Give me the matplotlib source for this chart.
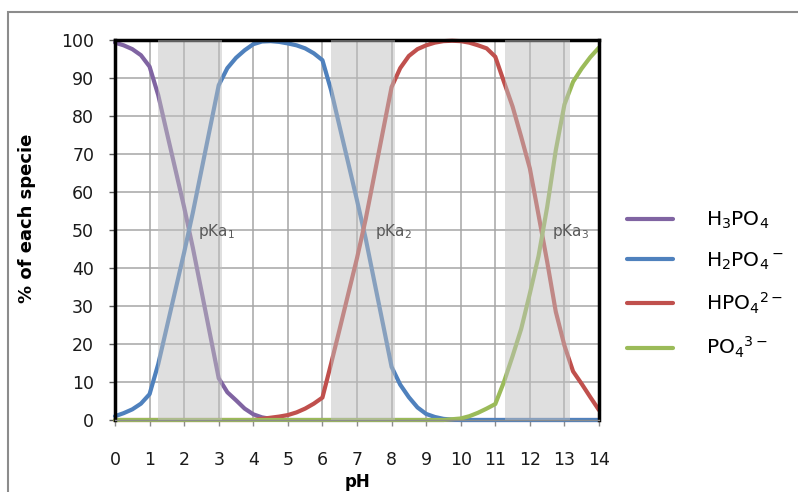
import numpy as np
import matplotlib.pyplot as plt
from matplotlib.patches import Rectangle

plt.rcParams['mathtext.default'] = 'regular'

# pH grid (0 .. 14, step 0.25) and % of each species
ph = np.arange(0, 14.01, 0.25)

h3po4 = [99.3, 98.6, 97.6, 96.0, 93.0, 85.5, 75.6, 65.8, 56.0, 45.4, 34.0, 22.5,
         11.0, 7.3, 5.2, 3.0, 1.5, 0.7, 0.3, 0.1] + [0.0] * 37

h2po4 = [1.0, 1.8, 2.8, 4.3, 6.8, 14.7, 24.5, 34.3, 44.1, 54.5, 65.7, 76.9,
         88.1, 92.6, 95.3, 97.3, 98.9, 99.6, 99.7, 99.5, 99.1, 98.6, 97.8, 96.5,
         94.7, 86.8, 77.1, 67.5, 57.8, 47.8, 36.5, 25.3, 14.0, 9.3, 6.0, 3.3,
         1.6, 0.8, 0.3, 0.1] + [0.0] * 17

hpo4 = [0.0] * 17 + [0.3, 0.6, 0.9, 1.3, 2.0, 3.0, 4.3, 5.9, 14.8, 24.0, 33.3,
                     42.6, 52.8, 64.4, 76.0, 87.6, 92.6, 95.8, 97.6, 98.6, 99.3,
                     99.7, 99.8, 99.7, 99.3, 98.6, 97.8, 95.6, 89.0, 82.5, 74.5,
                     66.2, 54.0, 41.7, 28.5, 19.6, 12.8, 9.5, 6.0, 2.6]

po4 = [0.0] * 39 + [0.2, 0.4, 1.0, 1.9, 3.0, 4.2, 10.0, 16.8, 24.0, 33.3, 43.1,
                    56.0, 71.0, 83.0, 89.0, 92.5, 95.5, 98.0]

labels = [r'H$_3$PO$_4$', r'H$_2$PO$_4$$^-$', r'HPO$_4$$^{2-}$', r'PO$_4$$^{3-}$']
colors = ['#8064A2', '#4F81BD', '#C0504D', '#9BBB59']

# shaded buffer zones around each pKa
bands = [(1.23, 3.09), (6.25, 8.1), (11.28, 13.16)]
pka_labels = [r'pKa$_1$', r'pKa$_2$', r'pKa$_3$']
pka_pos = [2.4, 7.52, 12.63]

W, H = 798, 492
fig = plt.figure(figsize=(W / 100, H / 100), dpi=100)
ax = fig.add_axes([115 / W, 1 - 420 / H, 484 / W, 380 / H])

for y, lab, c in zip([h3po4, h2po4, hpo4, po4], labels, colors):
    ax.plot(ph, y, color=c, lw=3, label=lab, clip_on=False, zorder=2,
            solid_capstyle='round', solid_joinstyle='round')

for a, b in bands:
    ax.axvspan(a, b, color='#C0C0C0', alpha=0.5, lw=0, zorder=3)

for t, x in zip(pka_labels, pka_pos):
    ax.text(x, 49.5, t, color='#595959', fontsize=11, va='center', zorder=4)

ax.set_xlim(0, 14)
ax.set_ylim(0, 100)
ax.set_xticks(range(0, 15))
ax.set_yticks(range(0, 101, 10))
ax.grid(True, color='#A6A6A6', lw=1.1, zorder=0)
ax.set_axisbelow(True)

for s in ['top', 'left', 'right']:
    ax.spines[s].set_color('black')
    ax.spines[s].set_linewidth(2.5)
ax.spines['bottom'].set_color('#8C8C8C')
ax.spines['bottom'].set_linewidth(1)

ax.tick_params(axis='y', length=4, width=1, color='#595959', pad=11,
               labelsize=12.5, labelcolor='#1a1a1a')
ax.tick_params(axis='x', length=4, width=1, color='#8C8C8C', pad=18,
               labelsize=12.5, labelcolor='#1a1a1a')

fig.text(357 / W, 1 - 482 / H, 'pH', fontsize=12, fontweight='bold',
         ha='center', va='center')
fig.text(27 / W, 1 - 218 / H, '% of each specie', fontsize=13,
         fontweight='bold', rotation=90, ha='center', va='center')

fig.legend(loc='center left', bbox_to_anchor=(609 / W, 1 - 285 / H),
           frameon=False, fontsize=14.5, handlelength=2.3, handletextpad=1.6,
           labelspacing=0.95)

# outer chart border
fig.add_artist(Rectangle((8 / W, -0.1), 1.0, 1.1 - 12 / H,
                         transform=fig.transFigure, fill=False,
                         ec='#8C8C8C', lw=1.5))

fig.savefig('out.png', dpi=100)
